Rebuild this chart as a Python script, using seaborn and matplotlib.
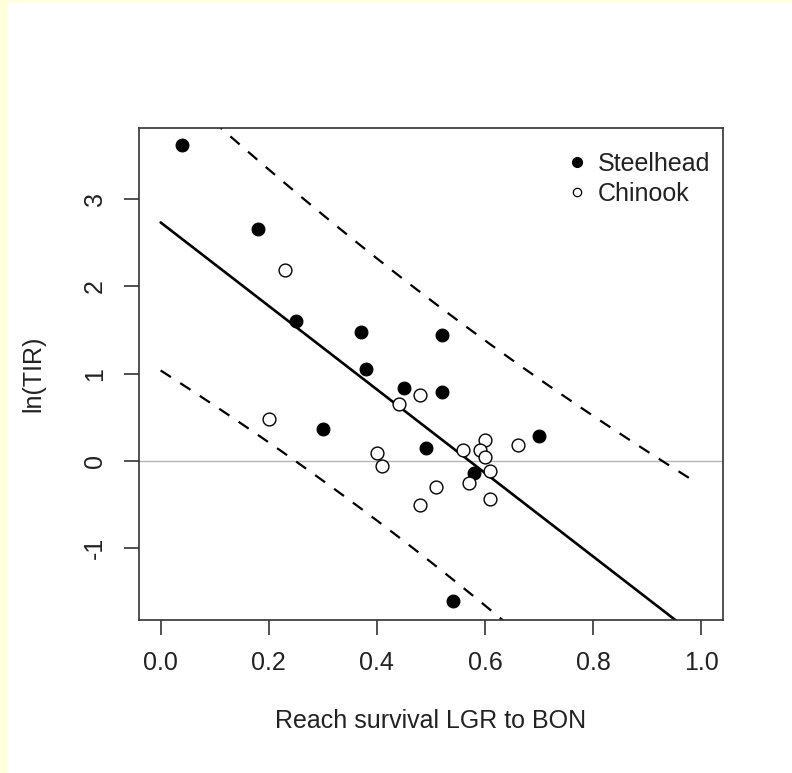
import numpy as np
import pandas as pd
import matplotlib
matplotlib.use("Agg")
import matplotlib.pyplot as plt
from matplotlib.lines import Line2D
from matplotlib.patches import Rectangle
import seaborn as sns

sns.set_theme(style='ticks')
plt.rcParams['font.family'] = ['Liberation Sans', 'DejaVu Sans']

# values
steel_x = [0.04, 0.18, 0.25, 0.37, 0.52, 0.38, 0.45, 0.52, 0.30, 0.49, 0.70, 0.58, 0.54]
steel_y = [3.61, 2.65, 1.60, 1.48, 1.44, 1.05, 0.83, 0.79, 0.37, 0.15, 0.28, -0.14, -1.60]

chin_x = [0.23, 0.48, 0.44, 0.20, 0.40, 0.41, 0.56, 0.60, 0.59, 0.60, 0.66, 0.61, 0.57, 0.51, 0.61, 0.48]
chin_y = [2.18, 0.76, 0.65, 0.48, 0.09, -0.06, 0.12, 0.24, 0.13, 0.05, 0.18, -0.12, -0.25, -0.30, -0.43, -0.50]

x_ticks = [0.0, 0.2, 0.4, 0.6, 0.8, 1.0]
y_ticks = [-1, 0, 1, 2, 3]

steel = pd.DataFrame({'reach': steel_x, 'tir': steel_y})
chin = pd.DataFrame({'reach': chin_x, 'tir': chin_y})
both = pd.concat([steel, chin], ignore_index=True)

# OLS fit on all fish + 95% prediction interval
slope, intercept = np.polyfit(both['reach'], both['tir'], 1)
n = len(both)
resid = both['tir'] - (intercept + slope * both['reach'])
s = np.sqrt((resid ** 2).sum() / (n - 2))
xbar = both['reach'].mean()
sxx = ((both['reach'] - xbar) ** 2).sum()
t_crit = 2.052  # t(0.975, df=27)

xs = np.linspace(0, 0.98, 60)
fit = intercept + slope * xs
half = t_crit * s * np.sqrt(1 + 1 / n + (xs - xbar) ** 2 / sxx)

fs = 18

fig = plt.figure(figsize=(7.92, 7.73), dpi=100)
fig.patch.set_facecolor('#ffffdc')
fig.add_artist(Rectangle((8 / 792, 0), 1, 1 - 2 / 773, transform=fig.transFigure,
                         facecolor='white', edgecolor='none', zorder=0))
ax = fig.add_axes([139 / 792, 1 - 620 / 773, 584 / 792, 492 / 773])
ax.set_facecolor('white')

ax.axhline(0, color='#b4b4b4', lw=1.0, zorder=1)

sns.scatterplot(data=steel, x='reach', y='tir', ax=ax, s=85, color='black',
                edgecolor='black', linewidth=0.8, zorder=3)
sns.scatterplot(data=chin, x='reach', y='tir', ax=ax, s=85, color='white',
                edgecolor='black', linewidth=1.0, zorder=3)

ax.plot(xs, fit, color='black', lw=1.9, zorder=2)
ax.plot(xs, fit + half, color='black', lw=1.6, ls=(0, (5.5, 5)), zorder=2)
ax.plot(xs, fit - half, color='black', lw=1.6, ls=(0, (5.5, 5)), zorder=2)

ax.set_xlim(-0.04, 1.04)
ax.set_ylim(-1.82, 3.81)
ax.set_xticks(x_ticks)
ax.set_xticklabels([f'{v:.1f}' for v in x_ticks])
ax.set_yticks(y_ticks)
ax.set_yticklabels([str(v) for v in y_ticks])

for sp in ax.spines.values():
    sp.set_color('#333333')
    sp.set_linewidth(1.2)
ax.tick_params(axis='both', length=11, width=1.2, color='#333333',
               labelsize=fs, labelcolor='#222222')
ax.tick_params(axis='x', pad=11)
ax.tick_params(axis='y', pad=12)
plt.setp(ax.get_yticklabels(), rotation=90, va='center', ha='right')

ax.set_xlabel('Reach survival LGR to BON', fontsize=fs, color='#222222')
ax.set_ylabel('ln(TIR)', fontsize=fs, color='#222222')
ax.xaxis.set_label_coords(0.5, -0.18)
ax.yaxis.set_label_coords(-0.16, 0.5)

handles = [
    Line2D([], [], marker='o', ls='none', color='black', markersize=7),
    Line2D([], [], marker='o', ls='none', markerfacecolor='white',
           markeredgecolor='black', markeredgewidth=0.9, markersize=6),
]
ax.legend(handles, ['Steelhead', 'Chinook'], loc='upper left',
          bbox_to_anchor=(0.7286, 0.951), frameon=False, fontsize=fs,
          handlelength=1.0, handletextpad=0.32, labelspacing=0.22,
          borderpad=0, borderaxespad=0, labelcolor='#222222')

fig.savefig('out.png', dpi=100, facecolor=fig.get_facecolor())
